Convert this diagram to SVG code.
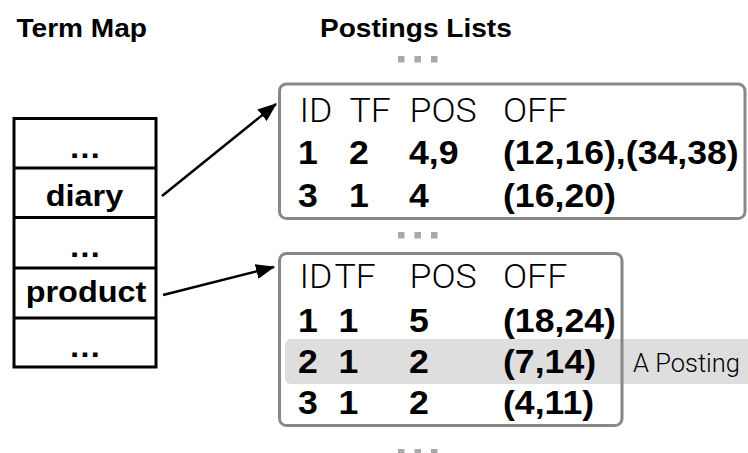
<svg xmlns="http://www.w3.org/2000/svg" width="748" height="453" viewBox="0 0 748 453">
  <style>
    .title { font-family: "Liberation Sans", Arial, sans-serif; font-weight: bold; font-size: 26px; fill: #000; }
    .term { font-family: "Liberation Sans", Arial, sans-serif; font-weight: bold; font-size: 30px; fill: #000; text-anchor: middle; }
    .head { font-family: Roboto, "Open Sans", "Liberation Sans", sans-serif; font-weight: 300; font-size: 33px; fill: #000; }
    .val { font-family: "Liberation Sans", Arial, sans-serif; font-weight: bold; font-size: 33px; fill: #000; }
    .note { font-family: Roboto, "Open Sans", "Liberation Sans", sans-serif; font-weight: 300; font-size: 26px; fill: #000; }
    .cell { fill: #fff; stroke: #000; stroke-width: 3; }
    .plist { fill: #fff; stroke: #888; stroke-width: 3; }
    .dot { fill: #a9a9a9; }
    .link { stroke: #000; stroke-width: 2.5; fill: none; marker-end: url(#arrow); }
  </style>
  <defs>
    <marker id="arrow" markerUnits="userSpaceOnUse" markerWidth="19" markerHeight="15" refX="18" refY="7.5" orient="auto">
      <path d="M0,0 L19,7.5 L0,15 Z" fill="#000"/>
    </marker>
  </defs>

  <!-- column titles -->
  <text class="title" transform="translate(16.5,37) scale(1.08,1)">Term Map</text>
  <text class="title" transform="translate(320,37) scale(1.08,1)">Postings Lists</text>

  <!-- term map table -->
  <g id="term-map">
    <rect class="cell" x="14" y="118.5" width="142" height="248.5"/>
    <line x1="14" y1="168" x2="156" y2="168" stroke="#000" stroke-width="3"/>
    <line x1="14" y1="217.5" x2="156" y2="217.5" stroke="#000" stroke-width="3"/>
    <line x1="14" y1="268" x2="156" y2="268" stroke="#000" stroke-width="3"/>
    <line x1="14" y1="318" x2="156" y2="318" stroke="#000" stroke-width="3"/>
    <text class="term" transform="translate(85,158) scale(1.08,1)">…</text>
    <text class="term" transform="translate(84.5,206) scale(1.08,1)">diary</text>
    <text class="term" transform="translate(85,257) scale(1.08,1)">…</text>
    <text class="term" transform="translate(86,302) scale(1.08,1)">product</text>
    <text class="term" transform="translate(85,357) scale(1.08,1)">…</text>
  </g>

  <!-- elision marks between postings lists -->
  <g id="gaps">
    <rect class="dot" x="398" y="56" width="6.5" height="6.5"/>
    <rect class="dot" x="414.5" y="56" width="6.5" height="6.5"/>
    <rect class="dot" x="431" y="56" width="6.5" height="6.5"/>
    <rect class="dot" x="398" y="232" width="6.5" height="6.5"/>
    <rect class="dot" x="414.5" y="232" width="6.5" height="6.5"/>
    <rect class="dot" x="431" y="232" width="6.5" height="6.5"/>
    <rect class="dot" x="398" y="449" width="6.5" height="6.5"/>
    <rect class="dot" x="414.5" y="449" width="6.5" height="6.5"/>
    <rect class="dot" x="431" y="449" width="6.5" height="6.5"/>
  </g>

  <!-- postings list for "diary" -->
  <g id="postings-diary">
    <rect class="plist" x="279.5" y="84" width="465.5" height="134.5" rx="7"/>
    <text class="head" transform="translate(299.5,122) scale(1.08,1)">ID</text>
    <text class="head" transform="translate(349.5,122) scale(1.08,1)">TF</text>
    <text class="head" transform="translate(409.5,122) scale(1.08,1)">POS</text>
    <text class="head" transform="translate(503,122) scale(1.08,1)">OFF</text>
    <text class="val" transform="translate(298,164) scale(1.08,1)">1</text>
    <text class="val" transform="translate(349,164) scale(1.08,1)">2</text>
    <text class="val" transform="translate(409,164) scale(1.08,1)">4,9</text>
    <text class="val" transform="translate(503,164) scale(1.08,1)">(12,16),(34,38)</text>
    <text class="val" transform="translate(298,207) scale(1.08,1)">3</text>
    <text class="val" transform="translate(349,207) scale(1.08,1)">1</text>
    <text class="val" transform="translate(409,207) scale(1.08,1)">4</text>
    <text class="val" transform="translate(503,207) scale(1.08,1)">(16,20)</text>
  </g>

  <!-- postings list for "product", with one posting highlighted -->
  <g id="postings-product">
    <rect class="plist" x="279.5" y="253.5" width="342.5" height="172" rx="7"/>
    <path d="M291,339 H748 V384 H291 A6,6 0 0 1 285,378 V345 A6,6 0 0 1 291,339 Z" fill="#dedede"/>
    <line x1="622" y1="339" x2="622" y2="384" stroke="#888" stroke-width="3"/>
    <text class="head" transform="translate(299.5,288) scale(1.08,1)">ID</text>
    <text class="head" transform="translate(334.5,288) scale(1.08,1)">TF</text>
    <text class="head" transform="translate(409.5,288) scale(1.08,1)">POS</text>
    <text class="head" transform="translate(503,288) scale(1.08,1)">OFF</text>
    <text class="val" transform="translate(298,332) scale(1.08,1)">1</text>
    <text class="val" transform="translate(338.5,332) scale(1.08,1)">1</text>
    <text class="val" transform="translate(409,332) scale(1.08,1)">5</text>
    <text class="val" transform="translate(503,332) scale(1.08,1)">(18,24)</text>
    <text class="val" transform="translate(298,373) scale(1.08,1)">2</text>
    <text class="val" transform="translate(338.5,373) scale(1.08,1)">1</text>
    <text class="val" transform="translate(409,373) scale(1.08,1)">2</text>
    <text class="val" transform="translate(503,373) scale(1.08,1)">(7,14)</text>
    <text class="val" transform="translate(298,414) scale(1.08,1)">3</text>
    <text class="val" transform="translate(338.5,414) scale(1.08,1)">1</text>
    <text class="val" transform="translate(409,414) scale(1.08,1)">2</text>
    <text class="val" transform="translate(503,414) scale(1.08,1)">(4,11)</text>
  </g>

  <g id="posting-label">
    <text class="note" x="633" y="372" textLength="107" lengthAdjust="spacingAndGlyphs">A Posting</text>
  </g>

  <!-- term to postings links -->
  <g id="connectors">
    <line class="link" x1="162" y1="196" x2="276" y2="104"/>
    <line class="link" x1="163" y1="295" x2="274" y2="267"/>
  </g>
</svg>
